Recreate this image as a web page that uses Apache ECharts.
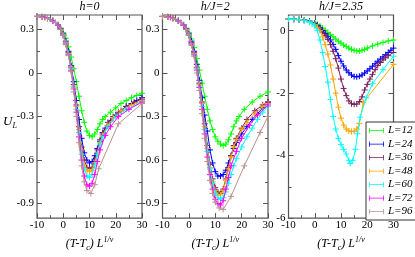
<!DOCTYPE html>
<html><head><meta charset="utf-8">
<script src="https://cdn.jsdelivr.net/npm/echarts@6/dist/echarts.min.js"></script>
<style>html,body{margin:0;padding:0;background:#fff}#c{width:415px;height:257px}</style>
</head><body><div id="c"></div>
<script>
// ---------- categories / labels ----------
const seriesNames = ['L=12','L=24','L=36','L=48','L=60','L=72','L=96'];
const panelTitles = ['h=0','h/J=2','h/J=2.35'];
const xTickValues = [-10,0,10,20,30];
const xMinorValues = [-5,5,15,25];
const yTickValuesAB = [-0.9,-0.6,-0.3,0,0.3];
const yMinorValuesAB = [-0.75,-0.45,-0.15,0.15];
const yTickValuesC = [-6,-4,-2,0];
const yMinorValuesC = [-5,-3,-1];

// ---------- panel 1 : h=0  ([x, U_L]) ----------
const h0_L12 = [[-10,0.39],[-8,0.388],[-6,0.38],[-4,0.363],[-2,0.335],[-1,0.31],[0,0.28],[1,0.24],[2,0.18],[3,0.11],[4,0.03],[5,-0.06],[6,-0.16],[7,-0.26],[8,-0.34],[9,-0.4],[10,-0.43],[11,-0.44],[12,-0.42],[13,-0.39],[14,-0.35],[15,-0.32],[16,-0.3],[18,-0.27],[20,-0.24],[22,-0.21],[24,-0.19],[26,-0.17],[28,-0.155],[30,-0.14]];
const h0_L24 = [[-10,0.39],[-8,0.387],[-6,0.378],[-4,0.36],[-2,0.33],[-1,0.305],[0,0.27],[1,0.22],[2,0.15],[3,0.05],[4,-0.06],[5,-0.19],[6,-0.32],[7,-0.45],[8,-0.55],[9,-0.6],[10,-0.62],[11,-0.61],[12,-0.57],[13,-0.52],[14,-0.47],[15,-0.42],[16,-0.38],[18,-0.33],[20,-0.29],[22,-0.26],[24,-0.23],[26,-0.21],[28,-0.19],[30,-0.17]];
const h0_L36 = [[-10,0.39],[-8,0.387],[-6,0.377],[-4,0.36],[-2,0.33],[-1,0.303],[0,0.265],[1,0.21],[2,0.14],[3,0.04],[4,-0.08],[5,-0.22],[6,-0.37],[7,-0.51],[8,-0.6],[9,-0.65],[10,-0.66],[11,-0.65],[12,-0.6],[13,-0.53],[14,-0.46],[15,-0.41],[17,-0.34],[19,-0.3],[21,-0.27],[24,-0.23],[27,-0.2],[30,-0.18]];
const h0_L48 = [[-10,0.39],[-8,0.386],[-6,0.377],[-4,0.36],[-2,0.33],[-1,0.302],[0,0.264],[1,0.21],[2,0.135],[3,0.035],[4,-0.09],[5,-0.23],[6,-0.39],[7,-0.53],[8,-0.63],[9,-0.67],[10,-0.68],[11,-0.67],[12,-0.62],[13,-0.55],[14,-0.48],[15,-0.43],[17,-0.36],[19,-0.31],[22,-0.26],[26,-0.22],[30,-0.19]];
const h0_L60 = [[-10,0.39],[-7,0.384],[-4,0.36],[-2,0.33],[-1,0.3],[0,0.262],[1,0.205],[2,0.13],[3,0.03],[4,-0.1],[5,-0.25],[6,-0.41],[7,-0.56],[8,-0.66],[9,-0.71],[10,-0.72],[11,-0.7],[12,-0.64],[13,-0.56],[14,-0.49],[15,-0.44],[17,-0.37],[20,-0.3],[24,-0.25],[30,-0.2]];
const h0_L72 = [[-10,0.39],[-7,0.384],[-4,0.36],[-2,0.33],[-1,0.3],[0,0.26],[1,0.2],[2,0.125],[3,0.02],[4,-0.11],[5,-0.27],[6,-0.44],[7,-0.6],[8,-0.71],[9,-0.77],[10,-0.78],[11,-0.76],[12,-0.7],[13,-0.61],[14,-0.53],[16,-0.43],[18,-0.37],[21,-0.3],[25,-0.25],[30,-0.2]];
const h0_L96 = [[-10,0.39],[-6,0.376],[-3,0.35],[-1,0.3],[0,0.258],[1,0.195],[2,0.12],[3,0.01],[4,-0.13],[5,-0.3],[6,-0.48],[7,-0.64],[8,-0.75],[9,-0.81],[10.5,-0.83],[12,-0.77],[13.5,-0.66],[21,-0.35],[30,-0.21]];

// ---------- panel 2 : h/J=2 ----------
const h2_L12 = [[-10,0.39],[-8,0.388],[-6,0.38],[-4,0.362],[-2,0.333],[-1,0.31],[0,0.28],[1,0.235],[2,0.175],[3,0.1],[4,0.02],[5,-0.07],[6,-0.16],[7,-0.25],[8,-0.33],[9,-0.39],[10,-0.44],[11,-0.47],[12,-0.49],[13,-0.5],[14,-0.49],[15,-0.46],[16,-0.42],[17,-0.37],[18,-0.33],[19,-0.3],[21,-0.25],[24,-0.2],[27,-0.16],[30,-0.13]];
const h2_L24 = [[-10,0.39],[-8,0.387],[-6,0.378],[-4,0.36],[-2,0.33],[-1,0.305],[0,0.27],[1,0.22],[2,0.15],[3,0.06],[4,-0.05],[5,-0.17],[6,-0.29],[7,-0.4],[8,-0.53],[9,-0.62],[10,-0.68],[11,-0.71],[12,-0.71],[13,-0.7],[14,-0.67],[15,-0.62],[16,-0.57],[17,-0.52],[18,-0.48],[19,-0.45],[20,-0.42],[22,-0.37],[24,-0.32],[26,-0.28],[28,-0.24],[30,-0.2]];
const h2_L36 = [[-10,0.39],[-8,0.387],[-6,0.377],[-4,0.36],[-2,0.33],[-1,0.303],[0,0.265],[1,0.21],[2,0.14],[3,0.04],[4,-0.07],[5,-0.2],[6,-0.35],[7,-0.5],[8,-0.63],[9,-0.73],[10,-0.79],[11,-0.82],[12,-0.83],[13,-0.8],[14,-0.73],[15,-0.65],[16,-0.57],[17,-0.5],[18,-0.45],[20,-0.38],[22,-0.32],[25,-0.26],[28,-0.22],[30,-0.2]];
const h2_L48 = [[-10,0.39],[-8,0.386],[-6,0.377],[-4,0.36],[-2,0.33],[-1,0.302],[0,0.264],[1,0.205],[2,0.135],[3,0.035],[4,-0.08],[5,-0.21],[6,-0.37],[7,-0.52],[8,-0.65],[9,-0.75],[10,-0.81],[11,-0.84],[12,-0.84],[13,-0.81],[14,-0.74],[15,-0.66],[16,-0.58],[17,-0.51],[18,-0.46],[20,-0.39],[22,-0.34],[25,-0.28],[28,-0.23],[30,-0.21]];
const h2_L60 = [[-10,0.39],[-7,0.384],[-4,0.36],[-2,0.33],[-1,0.3],[0,0.262],[1,0.2],[2,0.13],[3,0.03],[4,-0.09],[5,-0.23],[6,-0.39],[7,-0.54],[8,-0.66],[9,-0.76],[10,-0.83],[11,-0.86],[12,-0.87],[13,-0.86],[14,-0.82],[15,-0.76],[16,-0.7],[17,-0.64],[18,-0.59],[20,-0.51],[22,-0.44],[24,-0.38],[26,-0.32],[28,-0.27],[30,-0.23]];
const h2_L72 = [[-10,0.39],[-7,0.384],[-4,0.36],[-2,0.33],[-1,0.3],[0,0.26],[1,0.2],[2,0.125],[3,0.02],[4,-0.1],[5,-0.25],[6,-0.42],[7,-0.58],[8,-0.7],[9,-0.8],[10,-0.87],[11,-0.9],[12,-0.91],[13,-0.88],[14,-0.8],[15,-0.72],[16,-0.64],[18,-0.54],[20,-0.45],[23,-0.36],[26,-0.29],[30,-0.22]];
const h2_L96 = [[-10,0.39],[-6,0.376],[-3,0.35],[-1,0.3],[0,0.258],[1,0.19],[2,0.115],[3,0.0],[4,-0.12],[5,-0.28],[6,-0.45],[7,-0.61],[8,-0.74],[9,-0.83],[10,-0.89],[11.5,-0.93],[13,-0.94],[16,-0.85],[21,-0.64],[27,-0.41],[30,-0.3]];

// ---------- panel 3 : h/J=2.35 ----------
const h235_L12 = [[-10,0.37],[-8,0.365],[-6,0.355],[-4,0.34],[-2,0.31],[0,0.25],[1,0.2],[2,0.15],[3,0.08],[4,0.01],[5,-0.06],[6,-0.13],[7,-0.2],[8,-0.27],[9,-0.34],[10,-0.4],[11,-0.46],[12,-0.51],[13,-0.56],[14,-0.6],[15,-0.63],[16,-0.65],[17,-0.65],[18,-0.63],[19,-0.6],[20,-0.56],[22,-0.49],[24,-0.43],[26,-0.38],[28,-0.33],[30,-0.3]];
const h235_L24 = [[-10,0.37],[-8,0.364],[-6,0.353],[-4,0.335],[-2,0.3],[0,0.23],[1,0.17],[2,0.09],[3,0.0],[4,-0.09],[5,-0.18],[6,-0.3],[7,-0.44],[8,-0.6],[9,-0.8],[10,-0.98],[11,-1.13],[12,-1.26],[13,-1.35],[14,-1.42],[15,-1.47],[16,-1.48],[17,-1.46],[18,-1.42],[19,-1.36],[20,-1.29],[21,-1.22],[22,-1.14],[23,-1.06],[24,-0.98],[25,-0.91],[26,-0.84],[27,-0.77],[28,-0.7],[29,-0.63],[30,-0.56]];
const h235_L36 = [[-10,0.37],[-8,0.363],[-6,0.352],[-4,0.33],[-2,0.29],[0,0.21],[1,0.14],[2,0.06],[3,-0.05],[4,-0.16],[5,-0.28],[6,-0.45],[7,-0.66],[8,-0.9],[9,-1.2],[10,-1.55],[11,-1.85],[12,-2.08],[13,-2.25],[14,-2.34],[15,-2.36],[16,-2.35],[17,-2.27],[18,-2.12],[19,-1.9],[20,-1.72],[21,-1.55],[22,-1.4],[23,-1.25],[24,-1.12],[25,-1.02],[26,-0.94],[27,-0.87],[28,-0.8],[30,-0.7]];
const h235_L48 = [[-10,0.37],[-8,0.362],[-6,0.35],[-4,0.33],[-2,0.28],[0,0.19],[1,0.11],[2,0.0],[3,-0.2],[4,-0.45],[5,-0.75],[6,-1.1],[7,-1.55],[8,-2.0],[9,-2.45],[10,-2.8],[11,-3.02],[12,-3.15],[13,-3.21],[14,-3.23],[15,-3.22],[16,-3.15],[17,-2.97],[18.5,-2.3],[30,-1.08]];
const h235_L60 = [[-10,0.37],[-8,0.362],[-6,0.35],[-4,0.325],[-2,0.27],[-1,0.22],[0,0.15],[1,0.0],[2,-0.3],[3,-0.7],[4,-1.15],[5,-1.65],[6,-2.2],[7,-2.75],[8,-3.15],[9,-3.45],[10,-3.65],[11,-3.8],[12,-3.95],[13,-4.15],[13.5,-4.25],[14.5,-4.15],[15.5,-3.8],[16.3,-3.3],[17.3,-2.77],[19.6,-2.15],[22,-1.7],[26,-1.25],[30,-0.82]];

// ---------- styling ----------
const colors = ['#00ff00','#0000ff','#7a1f5c','#ffa500','#00ffff','#ff00ff','#bc8f8f'];
const FONT = 'Liberation Serif';
const panelData = [
  [h0_L12,h0_L24,h0_L36,h0_L48,h0_L60,h0_L72,h0_L96],
  [h2_L12,h2_L24,h2_L36,h2_L48,h2_L60,h2_L72,h2_L96],
  [h235_L12,h235_L24,h235_L36,h235_L48,h235_L60]
];
const grids = [
  {left:37, top:15, width:105, height:209},
  {left:162.5, top:15, width:105.5, height:209},
  {left:288.5, top:15, width:105, height:209}
];
const yRanges = [[-1.0,0.4],[-1.0,0.4],[-6,0.5]];
const yMajor = [yTickValuesAB, yTickValuesAB, yTickValuesC];
const yMinor = [yMinorValuesAB, yMinorValuesAB, yMinorValuesC];
const AXC = '#555';

const xAxes = [], yAxes = [], series = [], graphic = [];
grids.forEach((g, i) => {
  const xb = {gridIndex:i, type:'value', min:-10, max:30, axisLine:{show:false, onZero:false}, splitLine:{show:false}};
  xAxes.push(Object.assign({}, xb, {position:'bottom',
    axisTick:{show:true, inside:true, length:5, lineStyle:{color:AXC}, customValues:xTickValues},
    axisLabel:{show:true, customValues:xTickValues, margin:2, fontFamily:FONT, fontSize:11, color:'#000'},
    name:'{i|(T-T}{s|c}{i|) L}{p|1/\u03bd}', nameLocation:'middle', nameGap:14,
    nameTextStyle:{rich:{
      i:{fontFamily:FONT, fontStyle:'italic', fontSize:12, color:'#000', lineHeight:16},
      s:{fontFamily:FONT, fontStyle:'italic', fontSize:8, color:'#000', verticalAlign:'bottom', lineHeight:10},
      p:{fontFamily:FONT, fontStyle:'italic', fontSize:8, color:'#000', verticalAlign:'top', lineHeight:10}
    }}
  }));
  xAxes.push(Object.assign({}, xb, {position:'bottom', axisLabel:{show:false},
    axisTick:{show:true, inside:true, length:3, lineStyle:{color:AXC}, customValues:xMinorValues}}));
  xAxes.push(Object.assign({}, xb, {position:'top', axisLabel:{show:false},
    axisTick:{show:true, inside:true, length:5, lineStyle:{color:AXC}, customValues:xTickValues}}));
  xAxes.push(Object.assign({}, xb, {position:'top', axisLabel:{show:false},
    axisTick:{show:true, inside:true, length:3, lineStyle:{color:AXC}, customValues:xMinorValues}}));
  const yb = {gridIndex:i, type:'value', min:yRanges[i][0], max:yRanges[i][1], axisLine:{show:false, onZero:false}, splitLine:{show:false}};
  yAxes.push(Object.assign({}, yb, {position:'left',
    axisTick:{show:true, inside:true, length:5, lineStyle:{color:AXC}, customValues:yMajor[i]},
    axisLabel:{show:true, customValues:yMajor[i], margin:3, fontFamily:FONT, fontSize:11, color:'#000'}}));
  yAxes.push(Object.assign({}, yb, {position:'left', axisLabel:{show:false},
    axisTick:{show:true, inside:true, length:3, lineStyle:{color:AXC}, customValues:yMinor[i]}}));
  yAxes.push(Object.assign({}, yb, {position:'right', axisLabel:{show:false},
    axisTick:{show:true, inside:true, length:5, lineStyle:{color:AXC}, customValues:yMajor[i]}}));
  yAxes.push(Object.assign({}, yb, {position:'right', axisLabel:{show:false},
    axisTick:{show:true, inside:true, length:3, lineStyle:{color:AXC}, customValues:yMinor[i]}}));

  panelData[i].forEach((d, k) => {
    series.push({
      name: seriesNames[k], type:'line', xAxisIndex:4*i, yAxisIndex:4*i, data:d,
      symbol:'path://M0,5L10,5M5,0L5,10', symbolSize:6,
      itemStyle:{color:colors[k], borderColor:colors[k], borderWidth:1},
      lineStyle:{color:colors[k], width:1}, z: 2+k,
      emphasis:{disabled:true}, silent:true, clip:true
    });
  });
  graphic.push({type:'text', x:g.left + g.width/2, y:1,
    style:{text:panelTitles[i], font:'italic 12px "Liberation Serif"', fill:'#000', align:'center', verticalAlign:'top'}});
});
graphic.push({type:'text', x:3, y:114,
  style:{text:'{u|U}{s|L}', rich:{
    u:{fontFamily:FONT, fontStyle:'italic', fontSize:13, fill:'#000', lineHeight:16},
    s:{fontFamily:FONT, fontStyle:'italic', fontSize:8, fill:'#000', verticalAlign:'bottom', lineHeight:10}}}});

const chart = echarts.init(document.getElementById('c'), null, {renderer:'canvas'});
chart.setOption({
  animation:false,
  backgroundColor:'#fff',
  grid: grids.map(g => Object.assign({show:true, borderColor:AXC, borderWidth:1.2, backgroundColor:'transparent'}, g)),
  xAxis: xAxes, yAxis: yAxes, series: series, graphic: graphic,
  legend:{
    data: seriesNames, orient:'vertical', left:366, top:122,
    backgroundColor:'#fff', borderColor:'#333', borderWidth:1, padding:[3,4,3,3],
    itemWidth:15, itemHeight:8, itemGap:2.5, selectedMode:false,
    icon:'path://M0,3.5H20V4.5H0Z M0,0.5H1V7.5H0Z M19,0.5H20V7.5H19Z',
    itemStyle:{borderWidth:0},
    textStyle:{fontFamily:FONT, fontStyle:'italic', fontSize:11, color:'#000', padding:[0,0,0,-1]}
  }
});
</script></body></html>
